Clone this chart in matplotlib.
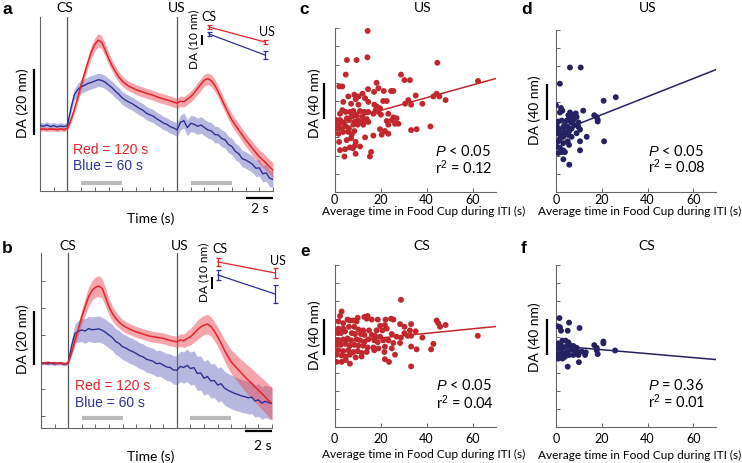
import numpy as np
import matplotlib
matplotlib.use('Agg')
import matplotlib.pyplot as plt

W, H = 742, 463
plt.rcParams['font.family'] = ['Lato', 'DejaVu Sans']
plt.rcParams['mathtext.fontset'] = 'custom'
plt.rcParams['mathtext.rm'] = 'Liberation Sans'
plt.rcParams['mathtext.it'] = 'Liberation Sans:italic'

# ---------------- data: photometry traces (nm), sampled every 0.25 s ----------------
time_s = np.linspace(-2, 15, 69)

red_a = [-0.7, -0.6, -0.8, -0.6, -0.7, -0.8, -0.6, -0.8, -0.4, 2.0, 5.2, 8.8, 12.7, 16.2, 19.6, 22.8,
         25.0, 26.3, 25.6, 23.4, 20.8, 18.6, 16.8, 15.1, 13.9, 13.0, 12.3, 11.8, 11.3, 10.9, 10.6, 10.2,
         9.9, 9.6, 9.2, 8.8, 8.5, 8.2, 7.9, 7.5, 7.2, 7.8, 7.6, 8.4, 9.2, 10.3, 11.7, 13.0, 14.2, 14.6,
         14.0, 12.6, 10.7, 8.5, 6.2, 4.1, 2.1, 0.6, -0.9, -2.4, -3.9, -5.2, -6.5, -7.8, -9.0, -10.0,
         -11.0, -12.1, -13.1]
red_a_sem = [0.6] * 9 + [1.0, 1.3, 1.5, 1.6, 1.7, 1.8, 1.9, 2.0, 2.0, 2.0, 1.9, 1.8, 1.7, 1.6, 1.6,
             1.5, 1.5, 1.5, 1.5, 1.5, 1.5, 1.5, 1.5, 1.5, 1.5, 1.5, 1.5, 1.5, 1.5, 1.5, 1.5, 1.5, 1.6,
             1.6, 1.6, 1.7, 1.7, 1.8, 1.8, 1.8, 1.8, 1.8, 1.8, 1.8, 1.8, 1.8, 1.8, 1.9, 1.9, 1.9, 2.0,
             2.0, 2.0, 2.1, 2.1, 2.1, 2.2, 2.2, 2.2, 2.3]
blue_a = [0.5, 0.2, 0.6, 0.1, 0.4, 0.0, 0.3, 0.1, 0.4, 5.5, 9.7, 11.3, 12.2, 12.6, 13.2, 13.5, 13.9,
          14.3, 14.1, 13.6, 12.7, 11.9, 10.8, 9.9, 8.8, 8.1, 7.5, 7.0, 6.3, 5.6, 5.1, 4.2, 3.7, 3.3, 2.5,
          1.9, 1.2, 0.8, 0.1, -0.3, -0.9, 1.4, 1.9, -0.2, 1.1, 0.8, 0.2, 0.6, -0.2, -0.9, -1.2, -2.3,
          -2.4, -3.5, -3.9, -5.3, -5.9, -7.4, -8.1, -9.6, -10.0, -10.6, -11.3, -12.5, -12.4, -14.2,
          -13.9, -15.5, -15.9]
blue_a_sem = [1.0] * 9 + [1.4, 1.7, 1.9, 2.0, 2.0, 2.0, 2.0, 2.0, 2.0, 2.0, 2.0, 2.0, 2.0, 2.0, 2.0,
              2.0, 2.0, 2.0, 2.0, 2.0, 2.0, 2.0, 2.0, 2.0, 2.0, 2.0, 2.0, 2.0, 2.0, 2.0, 2.0, 2.1, 2.2,
              2.3, 2.4, 2.5, 2.5, 2.5, 2.5, 2.5, 2.5, 2.5, 2.5, 2.5, 2.5, 2.5, 2.5, 2.5, 2.5, 2.5, 2.5,
              2.5, 2.5, 2.5, 2.5, 2.5, 2.5, 2.5, 2.5, 2.5]

red_b = [-0.2, -0.4, -0.1, -0.3, -0.2, -0.5, -0.3, -0.6, -0.2, 3.5, 8.1, 12.3, 16.8, 20.5, 24.2, 26.5,
         27.7, 28.2, 27.3, 24.0, 20.5, 18.0, 16.2, 14.8, 13.7, 12.9, 12.3, 11.7, 11.2, 10.8, 10.4, 10.0,
         9.6, 9.4, 9.2, 9.0, 8.8, 8.4, 8.0, 7.8, 7.5, 8.2, 7.9, 8.7, 9.4, 10.6, 11.9, 13.0, 13.7, 14.1,
         13.2, 11.5, 9.4, 7.0, 4.4, 2.2, 0.1, -1.3, -2.7, -4.1, -5.4, -6.7, -7.9, -9.2, -10.4, -11.6,
         -12.9, -14.2, -15.3]
red_b_sem = [0.5] * 9 + [1.2, 1.8, 2.3, 2.8, 3.2, 3.5, 3.7, 3.8, 3.8, 3.7, 3.4, 3.0, 2.7, 2.5, 2.3,
             2.2, 2.1, 2.0, 2.0, 2.0, 2.0, 2.0, 2.0, 2.0, 2.0, 2.0, 2.0, 2.0, 2.0, 2.0, 2.0, 2.1, 2.3,
             2.5, 2.8, 3.0, 3.3, 3.5, 3.6, 3.6, 3.6, 3.6, 3.6, 3.7, 3.8, 4.0, 4.2, 4.4, 4.6, 4.8, 5.0,
             5.2, 5.4, 5.5, 5.6, 5.7, 5.8, 5.9, 6.0, 6.0]
blue_b = [-0.5, -0.3, -0.6, -0.4, -0.7, -0.4, -0.5, -0.8, -0.4, 6.0, 10.6, 11.4, 11.9, 11.5, 12.4, 12.0,
          12.1, 12.3, 11.8, 11.0, 10.0, 9.1, 7.6, 6.9, 5.7, 5.2, 4.4, 3.9, 3.2, 2.4, 2.0, 1.1, 0.7, 0.3,
          -0.6, -0.4, -1.1, -1.8, -2.0, -2.9, -3.0, -1.6, -2.0, -1.2, -2.4, -2.0, -4.2, -4.0, -6.0,
          -5.3, -7.0, -6.8, -8.5, -8.0, -9.6, -10.4, -11.0, -11.6, -12.0, -12.5, -12.8, -13.2, -13.0,
          -14.4, -14.0, -15.2, -14.5, -15.0, -15.3]
blue_b_sem = [0.6] * 9 + [2.5, 3.5, 4.0, 4.3, 4.5, 4.6, 4.7, 4.8, 4.8, 4.8, 4.8, 4.8, 4.8, 4.8, 4.8,
              4.8, 4.8, 4.8, 4.8, 4.8, 4.8, 4.8, 4.8, 4.8, 4.8, 4.8, 4.8, 4.9, 5.0, 5.1, 5.2, 5.4, 5.6,
              5.8, 6.0, 6.1, 6.2, 6.3, 6.3, 6.3, 6.3, 6.3, 6.3, 6.3, 6.3, 6.3, 6.2, 6.2, 6.2, 6.1, 6.1,
              6.0, 6.0, 6.0, 6.0, 6.0, 6.0, 6.0, 6.0, 6.0]

# insets: mean DA at CS and US epochs (nm, relative)
inset_epochs = ['CS', 'US']
inset_a_red = [28, 13]
inset_a_red_err = [1.7, 2.0]
inset_a_blue = [21, 0]
inset_a_blue_err = [2.0, 4.0]
inset_b_red = [26.7, 17.5]
inset_b_red_err = [3.3, 4.2]
inset_b_blue = [15.8, 0]
inset_b_blue_err = [4.2, 7.5]

# ---------------- data: scatter (x = avg time in food cup during ITI, y = DA nm) ----------------
c_x = [14.4, 5.4, 9.6, 14.3, 4.9, 44.7, 28.9, 30.4, 32.8, 2.1, 3.4, 18.3, 14.6, 62.4, 17.2, 21.4, 25.6,
       24.6, 19.1, 12.2, 8.6, 10.4, 6.0, 13.3, 9.2, 3.8, 7.2, 10.4, 14.7, 17.3, 18.3, 19.8, 17.9, 19.1,
       21.2, 22.7, 32.1, 35.3, 30.7, 33.3, 38.2, 43.0, 44.4, 45.6, 48.3,
       3.4, 2.4, 4.9, 6.7, 8.2, 11.1, 13.0, 14.7, 16.9, 20.2, 23.4, 25.6, 27.0, 24.9, 22.7, 23.4, 26.3, 27.8,
       0.9, 2.4, 0.5, 1.7, 3.1, 4.3, 5.4, 6.3, 7.5, 9.6, 10.1, 11.5, 13.0, 14.0, 14.7, 12.1, 8.6, 8.2, 10.1, 12.5,
       1.1, 2.8, 4.9, 6.3, 1.7, 3.8, 6.0, 7.5, 8.6, 19.8, 21.9, 23.4, 20.5, 16.9, 13.3, 33.3, 35.7, 41.7,
       2.0, 5.3, 7.2, 9.2, 11.1, 2.4, 4.6, 6.7, 8.9, 15.9, 15.4, 9.2, 4.3, 8.0]
c_y = [177, 145, 145, 148, 129, 142, 129, 123, 123, 116, 116, 120, 113, 122, 110, 111, 111,
       111, 114, 108, 107, 105, 105, 103, 102, 99, 97, 96, 99, 96, 94, 92, 90, 88,
       100, 100, 101, 106, 97, 96, 97, 105, 108, 105, 101,
       90, 86, 88, 88, 89, 89, 88, 88, 86, 85, 86, 82, 81, 79, 78, 74, 75, 75,
       79, 79, 77, 74, 77, 75, 81, 79, 83, 85, 79, 77, 79, 80, 77, 83, 77, 74, 74, 74,
       70, 70, 72, 70, 64, 66, 66, 63, 67, 69, 67, 64, 63, 62, 60, 68, 69, 72,
       55, 57, 59, 55, 50, 46, 47, 49, 51, 44, 39, 42, 39, 48]

d_x = [6.1, 10.8, 1.7, 0.0, 2.2, 2.8, 1.7, 20.8, 26.1, 1.0, 2.5,
       6.1, 5.4, 6.8, 8.6, 9.0, 11.9, 16.7, 17.8, 18.2, 18.2,
       4.7, 5.7, 7.6, 6.6, 9.8,
       1.0, 3.2, 3.9, 5.1, 6.8, 8.0, 9.8, 10.5, 5.7,
       0.7, 2.2, 3.9, 1.7, 3.2, 5.4, 6.8, 9.0,
       1.0, 3.2, 5.1, 5.7, 10.5, 13.4,
       0.3, 1.7, 3.2, 1.0, 2.5, 3.9,
       10.5, 21.0, 3.2, 5.8, 0.3, 1.3]
d_y = [138, 138, 120, 96, 93, 90, 88, 101, 105, 78, 79,
       88, 85, 85, 87, 83, 90, 85, 83, 80, 78,
       79, 81, 80, 77, 77,
       70, 72, 74, 72, 70, 74, 72, 69, 67,
       65, 64, 66, 59, 61, 63, 61, 65,
       56, 54, 56, 52, 56, 61,
       50, 49, 46, 43, 44, 44,
       46, 56, 36, 30, 74, 69]

e_x = [28.9, 3.1, 2.4, 5.7, 10.1, 13.0, 14.0, 14.4, 16.2, 18.8, 22.2, 24.6, 25.6, 28.5, 33.3, 44.4,
       45.1, 45.9, 48.3, 1.7, 3.8, 6.7, 8.2, 9.6,
       1.7, 3.8, 6.3, 8.6, 10.4, 12.5, 15.0, 18.3, 19.8, 21.9, 20.8, 22.7, 30.4, 32.8, 35.3, 38.2, 31.8,
       1.4, 2.8, 4.6, 7.5, 8.9, 11.5, 13.0, 16.2, 17.6, 19.8, 24.9, 27.0, 28.9, 30.4,
       0.5, 2.0, 3.8, 5.7, 7.2, 9.6, 11.1, 13.0, 14.7, 17.3, 18.8, 21.2, 23.4, 25.6, 28.5, 33.3,
       0.9, 2.8, 4.9, 6.7, 8.6, 10.4, 12.5, 14.4, 16.9, 19.1, 21.9, 24.9, 33.3, 35.7, 43.0, 42.0, 62.3,
       1.7, 3.8, 6.0, 8.2, 10.1, 11.8, 14.0, 17.3, 21.7,
       0.9, 3.1, 4.9, 6.7, 9.2, 11.8, 21.9, 23.7, 26.3, 33.3,
       0.9, 3.1, 6.7, 4.9]
e_y = [141, 128, 123, 119, 121, 122, 120, 123, 119, 119, 119, 120, 119, 114, 114, 118,
       115, 111, 113, 117, 115, 118, 118, 117,
       109, 109, 111, 111, 108, 107, 107, 107, 112, 113, 107, 109, 111, 107, 106, 99, 101,
       104, 104, 106, 104, 103, 103, 102, 102, 101, 100, 103, 100, 99, 104,
       96, 96, 97, 98, 96, 97, 96, 94, 97, 96, 94, 96, 96, 93, 93, 101,
       91, 91, 92, 90, 91, 90, 90, 88, 88, 87, 89, 87, 89, 86, 92, 86, 101,
       85, 84, 85, 83, 84, 82, 83, 85, 83,
       80, 79, 78, 80, 77, 78, 75, 72, 80, 67,
       72, 72, 70, 74]

f_x = [1.5, 0.6, 1.7, 2.2, 5.7, 5.1, 10.3,
       2.8, 4.2, 5.4, 1.0, 2.2,
       0.3, 1.7, 3.2, 4.7, 6.1, 7.6, 9.0, 16.7, 17.8,
       0.7, 2.2, 3.6, 5.1, 6.6, 8.3, 9.8, 11.2, 13.0,
       0.3, 1.7, 3.9, 5.7, 7.6, 9.8, 12.7, 18.2, 20.7, 20.7, 25.8, 17.8,
       5.1, 10.0, 1.0, 2.8]
f_y = [121, 112, 111, 107, 116, 107, 110,
       96, 96, 94, 93, 91,
       87, 88, 88, 90, 91, 90, 88, 91, 88,
       81, 83, 82, 84, 86, 84, 83, 84, 83,
       78, 79, 78, 80, 80, 80, 80, 81, 93, 95, 85, 85,
       67, 72, 76, 76]

# regression lines (endpoints)
fit_x = [0, 70]
c_fit = [75.6, 124.6]
d_fit = [65.5, 135.8]
e_fit = [93.6, 111.3]
f_fit = [90.3, 74.9]

c_stats = ['$P$ < 0.05', 'r$^2$ = 0.12']
d_stats = ['$P$ < 0.05', 'r$^2$ = 0.08']
e_stats = ['$P$ < 0.05', 'r$^2$ = 0.04']
f_stats = ['$P$ = 0.36', 'r$^2$ = 0.01']
scatter_xticks = [0, 20, 40, 60]

# ---------------- styles ----------------
RED = '#e3242b'
BLUE = '#2e3192'
RED_BAND = '#ee4c5c'
BLUE_BAND = '#7070c0'
SRED = '#c1272d'
SBLUE = '#262262'
SPINE = '#666666'
ARIAL = 'Liberation Sans'

fig = plt.figure(figsize=(W / 100, H / 100), dpi=100)


def rect(l, t, r, b):
    return [l / W, 1 - b / H, (r - l) / W, (b - t) / H]


def ftext(x, y, s, **kw):
    kw.setdefault('ha', 'center')
    kw.setdefault('va', 'center')
    return fig.text(x / W, 1 - y / H, s, **kw)


def trace_panel(r, ylim, red, red_sem, blue, blue_sem, scale_x, scale_y, bar_y, time_bar_y, yticks):
    ax = fig.add_axes(rect(*r))
    t = np.asarray(time_s)
    rv, rs = np.asarray(red), np.asarray(red_sem)
    bv, bs = np.asarray(blue), np.asarray(blue_sem)
    ax.fill_between(t, bv - bs, bv + bs, color=BLUE_BAND, alpha=0.5, lw=0, zorder=1)
    ax.fill_between(t, rv - rs, rv + rs, color=RED_BAND, alpha=0.5, lw=0, zorder=2)
    ax.plot(t, bv, color=BLUE, lw=1.0, zorder=3)
    ax.plot(t, rv, color=RED, lw=1.1, zorder=4)
    ax.axvline(0, color='#555555', lw=0.9, zorder=0)
    ax.axvline(8, color='#555555', lw=0.9, zorder=0)
    ax.set_xlim(-2, 15)
    ax.set_ylim(*ylim)
    for s in ['top', 'right']:
        ax.spines[s].set_visible(False)
    for s in ['left', 'bottom']:
        ax.spines[s].set_color(SPINE)
        ax.spines[s].set_linewidth(0.8)
    ax.set_xticks(np.arange(-2, 16, 1))
    ax.set_yticks(yticks)
    ax.tick_params(direction='in', length=3, width=0.7, color=SPINE, labelbottom=False, labelleft=False)
    # epoch bars
    ax.plot([1, 4], [bar_y, bar_y], color='#bbbbbb', lw=3, solid_capstyle='butt', zorder=0)
    ax.plot([9, 12], [bar_y, bar_y], color='#bbbbbb', lw=3, solid_capstyle='butt', zorder=0)
    # scale bars
    ax.plot([scale_x, scale_x], scale_y, color='black', lw=1.6, clip_on=False, solid_capstyle='butt')
    ax.plot([13, 15], [time_bar_y, time_bar_y], color='black', lw=1.6, clip_on=False, solid_capstyle='butt')
    return ax


def inset(r, xlim, ylim, red, red_err, blue, blue_err, sbar_x, sbar_y, lab_x, lab_y, cs_pos, us_pos):
    ax = fig.add_axes(rect(*r))
    ax.set_xlim(*xlim)
    ax.set_ylim(*ylim)
    ax.axis('off')
    xs = [0, 1]
    ax.errorbar(xs, red, yerr=red_err, color=RED, lw=0.9, elinewidth=0.9, capsize=1.8, capthick=0.9)
    ax.errorbar(xs, blue, yerr=blue_err, color=BLUE, lw=0.9, elinewidth=0.9, capsize=1.8, capthick=0.9)
    ax.plot([sbar_x, sbar_x], sbar_y, color='black', lw=1.4, solid_capstyle='butt')
    ax.text(lab_x, lab_y, 'DA (10 nm)', rotation=90, ha='center', va='center', fontsize=8.5)
    ax.text(cs_pos[0], cs_pos[1], inset_epochs[0], ha='center', va='center', fontsize=9)
    ax.text(us_pos[0], us_pos[1], inset_epochs[1], ha='center', va='center', fontsize=9)


# ---- panel a ----
ax_a = trace_panel((40, 17, 273, 191), (-19.4, 33.3), red_a, red_a_sem, blue_a, blue_a_sem,
                   -2.44, [-2.4, 17.6], -17.0, -21.5, [])
inset((185, 10, 275, 65), (-0.43, 1.18), (-10, 45), inset_a_red, inset_a_red_err, inset_a_blue,
      inset_a_blue_err, -0.125, [10, 20], -0.27, 16, (0, 38), (1.03, 23))
# ---- panel b ----
ax_b = trace_panel((41, 253, 272, 428), (-24.4, 40.4), red_b, red_b_sem, blue_b, blue_b_sem,
                   -2.51, [-1.1, 18.9], -20.7, -25.6, [-20, -10, 0, 10, 20, 30])
inset((195, 245, 285, 305), (-0.40, 1.175), (-9.2, 40.8), inset_b_red, inset_b_red_err, inset_b_blue,
      inset_b_blue_err, -0.105, [4.2, 14.2], -0.245, 18, (0.03, 37.5), (1.05, 27.5))

# trace panel texts
for (cx, cy, ux, dy, sx, tsy, ty, lx, ry, by) in [
        (65, 8, 177, 103, 260, 209, 219, 73, 150, 166),
        (68, 246, 180, 339, 263, 446, 457, 75, 386, 403)]:
    ftext(cx, cy, 'CS', fontsize=10)
    ftext(ux, cy, 'US', fontsize=10)
    ftext(22.3, dy, 'DA (20 nm)', rotation=90, fontsize=10)
    ftext(sx, tsy, '2 s', fontsize=10)
    ftext(151, ty, 'Time (s)', fontsize=10)
    ftext(lx, ry, 'Red = 120 s', ha='left', color=RED, fontsize=10, family=ARIAL)
    ftext(lx, by, 'Blue = 60 s', ha='left', color=BLUE, fontsize=10, family=ARIAL)


# ---- scatter panels ----
def scatter_panel(r, xs, ys, fit, color, sbar_x, title, title_pos, xlabel_pos, da_pos, stats, stats_pos, pad):
    ax = fig.add_axes(rect(*r))
    ax.plot(fit_x, fit, color=color, lw=1.1, zorder=2)
    ax.scatter(xs, ys, s=18, color=color, edgecolors='none', zorder=3)
    ax.set_xlim(0, 70)
    ax.set_ylim(0, 180)
    for s in ['top', 'right']:
        ax.spines[s].set_visible(False)
    for s in ['left', 'bottom']:
        ax.spines[s].set_color(SPINE)
        ax.spines[s].set_linewidth(0.8)
    ax.set_xticks(scatter_xticks)
    ax.set_xticklabels([str(v) for v in scatter_xticks])
    ax.set_yticks(np.arange(0, 181, 20))
    ax.tick_params(direction='in', length=3, width=0.7, color=SPINE, labelleft=False,
                   labelsize=9, pad=pad)
    ax.plot([sbar_x, sbar_x], [80, 120], color='black', lw=1.6, clip_on=False, solid_capstyle='butt')
    ftext(*title_pos, title, fontsize=10)
    ftext(*xlabel_pos, 'Average time in Food Cup during ITI (s)', fontsize=8.6)
    ftext(*da_pos, 'DA (40 nm)', rotation=90, fontsize=10)
    ftext(stats_pos[0], stats_pos[1], stats[0], ha='left', fontsize=10.5)
    ftext(stats_pos[0], stats_pos[2], stats[1], ha='left', fontsize=10.5)
    return ax


scatter_panel((334.5, 28.2, 495.5, 192), c_x, c_y, c_fit, SRED, -4.6, 'US', (423, 8), (423.5, 211.5),
              (315, 103), c_stats, (435, 151, 168), 1.5)
scatter_panel((556, 29.7, 716.3, 191.7), d_x, d_y, d_fit, SBLUE, -4.1, 'US', (648, 8), (640, 211.5),
              (535, 110), d_stats, (648.5, 151, 167), 1.5)
scatter_panel((334.5, 264.7, 495.5, 426.7), e_x, e_y, e_fit, SRED, -4.6, 'CS', (422, 246), (423.5, 454),
              (315, 335), e_stats, (435.5, 386, 403), 4.5)
scatter_panel((556, 265, 716.3, 427), f_x, f_y, f_fit, SBLUE, -4.1, 'CS', (647, 246), (640, 455),
              (535, 337), f_stats, (648.5, 385, 402), 4.5)

# panel letters
for lab, x, y in [('a', 7, 10), ('b', 7, 248), ('c', 304, 10), ('d', 527, 10), ('e', 305, 251), ('f', 524, 248)]:
    ftext(x, y, lab, fontsize=12.5, fontweight='bold', family=ARIAL)

fig.savefig('out.png', dpi=100)
